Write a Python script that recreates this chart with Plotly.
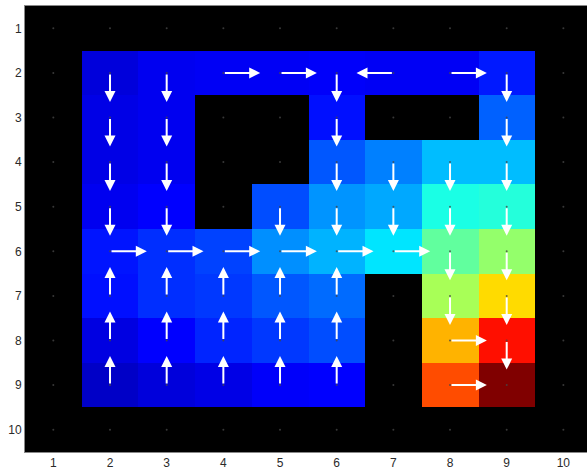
import plotly.graph_objects as go

cols = [1, 2, 3, 4, 5, 6, 7, 8, 9, 10]
rows = [1, 2, 3, 4, 5, 6, 7, 8, 9, 10]
tick_labels = [str(i) for i in range(1, 11)]

N = None
# value function (None = wall), row by row (y = 1..10), columns x = 1..10
values = [
    [N, N, N, N, N, N, N, N, N, N],
    [N, 0.09, 0.11, 0.115, 0.115, 0.12, 0.115, 0.115, 0.15, N],
    [N, 0.10, 0.11, N, N, 0.14, N, N, 0.22, N],
    [N, 0.10, 0.11, N, N, 0.21, 0.25, 0.31, 0.31, N],
    [N, 0.11, 0.125, N, 0.20, 0.27, 0.29, 0.40, 0.41, N],
    [N, 0.145, 0.17, 0.19, 0.265, 0.30, 0.35, 0.47, 0.52, N],
    [N, 0.14, 0.17, 0.18, 0.21, 0.23, N, 0.54, 0.66, N],
    [N, 0.095, 0.125, 0.16, 0.18, 0.20, N, 0.70, 0.86, N],
    [N, 0.07, 0.09, 0.10, 0.12, 0.125, N, 0.80, 1.00, N],
    [N, N, N, N, N, N, N, N, N, N],
]

# greedy policy: R right, L left, U up, D down, '' none
policy = [
    ["", "", "", "", "", "", "", "", "", ""],
    ["", "D", "D", "R", "R", "D", "L", "R", "D", ""],
    ["", "D", "D", "", "", "D", "", "", "D", ""],
    ["", "D", "D", "", "", "D", "D", "D", "D", ""],
    ["", "D", "D", "", "D", "D", "D", "D", "D", ""],
    ["", "R", "R", "R", "R", "R", "R", "D", "D", ""],
    ["", "U", "U", "U", "U", "U", "", "D", "D", ""],
    ["", "U", "U", "U", "U", "U", "", "R", "D", ""],
    ["", "U", "U", "U", "U", "U", "", "R", "", ""],
    ["", "", "", "", "", "", "", "", "", ""],
]

jet = [
    [0.0, "rgb(0,0,128)"],
    [0.125, "rgb(0,0,255)"],
    [0.375, "rgb(0,255,255)"],
    [0.625, "rgb(255,255,0)"],
    [0.875, "rgb(255,0,0)"],
    [1.0, "rgb(128,0,0)"],
]

fig = go.Figure()
fig.add_trace(go.Heatmap(
    z=values, x=cols, y=rows, colorscale=jet, zmin=0, zmax=1,
    showscale=False, hoverongaps=False,
))

# faint grid points
gx, gy = [], []
for r in rows:
    for c in cols:
        gx.append(c)
        gy.append(r)
fig.add_trace(go.Scatter(
    x=gx, y=gy, mode="markers",
    marker=dict(size=2, color="rgba(70,70,70,0.8)"),
    hoverinfo="skip", showlegend=False,
))

L = 0.65
dirs = {"R": (1, 0), "L": (-1, 0), "U": (0, -1), "D": (0, 1)}
annotations = []
for i, r in enumerate(rows):
    for j, c in enumerate(cols):
        d = policy[i][j]
        if not d:
            continue
        dx, dy = dirs[d]
        annotations.append(dict(
            x=c + L * dx, y=r + L * dy, ax=c, ay=r,
            xref="x", yref="y", axref="x", ayref="y",
            text="", showarrow=True, arrowhead=2, arrowsize=1.1,
            arrowwidth=2, arrowcolor="white", standoff=0, startstandoff=0,
        ))

fig.update_layout(
    width=587, height=469,
    margin=dict(l=25, r=0, t=6, b=17, autoexpand=False),
    paper_bgcolor="white", plot_bgcolor="black",
    annotations=annotations, showlegend=False,
    font=dict(family="Liberation Sans, Arial, sans-serif", size=12, color="#2a2a2a"),
)
fig.update_xaxes(
    range=[0.5, 10.417], tickvals=cols, ticktext=tick_labels,
    showgrid=False, zeroline=False, ticks="", ticklen=0, automargin=False,
    showline=True, linecolor="#888", linewidth=1, mirror=True,
)
fig.update_yaxes(
    range=[10.5, 0.5], tickvals=rows, ticktext=tick_labels,
    showgrid=False, zeroline=False, ticks="", ticklen=0, automargin=False,
    showline=True, linecolor="#888", linewidth=1, mirror=True,
)

fig.write_html(
    "out.html",
    config={"displayModeBar": False},
    post_script="document.body.style.margin='0';document.body.style.overflow='hidden';",
)
